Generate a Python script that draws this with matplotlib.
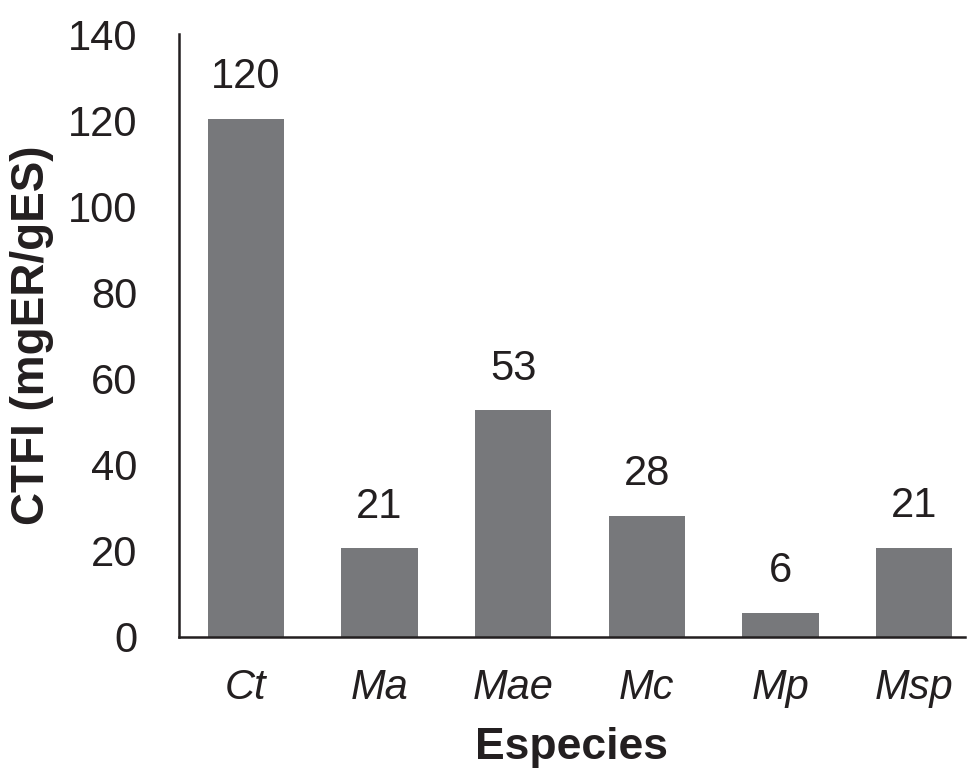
import matplotlib.pyplot as plt

especies = ['Ct', 'Ma', 'Mae', 'Mc', 'Mp', 'Msp']
ctfi = [120.3, 20.6, 52.6, 28.1, 5.6, 20.7]

plt.rcParams['font.family'] = ['Liberation Sans', 'DejaVu Sans']

fig = plt.figure(figsize=(9.67, 7.71), dpi=100)
ax = fig.add_axes([179/967, 1 - 637/771, (965-179)/967, (637-34)/771])

x = range(len(especies))
bars = ax.bar(x, ctfi, width=0.57, color='#77787b')
for b, v in zip(bars, ctfi):
    ax.text(b.get_x() + b.get_width()/2, v + 5, '%.0f' % v,
            ha='center', va='bottom', fontsize=30, color='#231f20')

ax.set_xlim(-0.5, 5.38)
ax.set_ylim(0, 140)
ax.set_yticks(range(0, 141, 20))
ax.set_xticks(list(x))
ax.set_xticklabels(especies, fontstyle='italic')
ax.tick_params(axis='both', length=0, labelsize=30, colors='#231f20')
ax.tick_params(axis='y', pad=30)
ax.tick_params(axis='x', pad=22)
for s in ['top', 'right']:
    ax.spines[s].set_visible(False)
for s in ['left', 'bottom']:
    ax.spines[s].set_linewidth(1.8)
    ax.spines[s].set_color('#231f20')

ax.set_ylabel('CTFI (mgER/gES)', fontsize=33, fontweight='bold', color='#231f20', labelpad=10)
ax.set_xlabel('Especies', fontsize=32, fontweight='bold', color='#231f20', labelpad=14)

fig.savefig('out.png', dpi=100)
